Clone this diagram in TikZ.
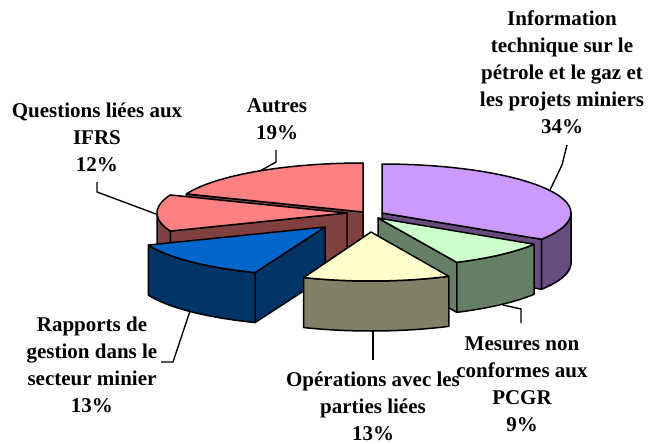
\documentclass[tikz,border=0pt]{standalone}
\usepackage{fontspec}
\setmainfont{Liberation Serif}
\definecolor{purpletop}{HTML}{CC99FF}
\definecolor{purpleside}{HTML}{664C80}
\definecolor{greentop}{HTML}{CCFFCC}
\definecolor{greenside}{HTML}{668066}
\definecolor{yellowtop}{HTML}{FFFFCC}
\definecolor{yellowside}{HTML}{808066}
\definecolor{bluetop}{HTML}{0066CC}
\definecolor{blueside}{HTML}{003366}
\definecolor{pinktop}{HTML}{FF8080}
\definecolor{pinkside}{HTML}{804040}
\newcommand\pieA{190}
\newcommand\pieB{49}
\newcommand\pieD{50}
% top face: cx, cy, t1, t2, colour
\newcommand\slicetop[5]{\filldraw[face,fill=#5] (#1,#2) -- plot[domain=#3:#4,samples=40] ({#1+\pieA*cos(\x)},{#2-\pieB*sin(\x)}) -- cycle;}
% outer wall: cx, cy, t1, t2, colour
\newcommand\slicewall[5]{\filldraw[face,fill=#5] plot[domain=#3:#4,samples=40] ({#1+\pieA*cos(\x)},{#2-\pieB*sin(\x)}) -- plot[domain=#4:#3,samples=40] ({#1+\pieA*cos(\x)},{#2+\pieD-\pieB*sin(\x)}) -- cycle;}
% radial face: cx, cy, t, colour
\newcommand\sliceradial[4]{\filldraw[face,fill=#4] (#1,#2) -- ({#1+\pieA*cos(#3)},{#2-\pieB*sin(#3)}) -- ({#1+\pieA*cos(#3)},{#2+\pieD-\pieB*sin(#3)}) -- ({#1},{#2+\pieD}) -- cycle;}
\tikzset{
  face/.style={draw=black, line width=1.5pt, line join=round},
  lbl/.style={font=\fontsize{21}{27}\selectfont\bfseries, align=center, inner sep=0pt},
  leader/.style={draw=black, line width=1.4pt, line join=round}
}
\begin{document}
\begin{tikzpicture}[x=1pt,y=-1pt]
\useasboundingbox (0,0) rectangle (649,444);
% Autres
\sliceradial{363}{212}{158.4}{pinkside}
\slicetop{363}{212}{90}{158.4}{pinktop}
% Information technique
\renewcommand\pieA{189}
\sliceradial{382}{213}{-32.4}{purpleside}
\slicewall{382}{213}{-32.4}{0}{purpleside}
\slicetop{382}{213}{-32.4}{90}{purpletop}
\renewcommand\pieA{190}
% IFRS
\sliceradial{347}{213}{201.6}{pinkside}
\slicewall{347}{213}{180}{201.6}{pinkside}
\slicetop{347}{213}{158.4}{201.6}{pinktop}
% Mesures non conformes
\renewcommand\pieA{185}
\sliceradial{378}{218}{-64.8}{greenside}
\slicewall{378}{218}{-64.8}{-32.4}{greenside}
\slicetop{378}{218}{-64.8}{-32.4}{greentop}
\renewcommand\pieA{190}
% Rapports de gestion
\sliceradial{325}{227}{-111.6}{blueside}
\slicewall{325}{227}{-158.4}{-111.6}{blueside}
\slicetop{325}{227}{-158.4}{-111.6}{bluetop}
% Operations
\renewcommand\pieA{183}
\slicewall{371}{232}{-111.6}{-64.8}{yellowside}
\slicetop{371}{232}{-111.6}{-64.8}{yellowtop}
\renewcommand\pieA{190}
% labels
\node[lbl] (info) at (562,72) {Information\\technique sur le\\pétrole et le gaz et\\les projets miniers\\34\%};
\node[lbl] (autres) at (277,119) {Autres\\19\%};
\node[lbl] (ifrs) at (97,137) {Questions liées aux\\IFRS\\12\%};
\node[lbl] (rapports) at (92,365) {Rapports de\\gestion dans le\\secteur minier\\13\%};
\node[lbl] (operations) at (373,406) {Opérations avec les\\parties liées\\13\%};
\node[lbl] (mesures) at (522,384) {Mesures non\\conformes aux\\PCGR\\9\%};
% leader points
\coordinate (infoA) at (567,145);
\coordinate (infoB) at (562,165);
\coordinate (infoC) at (550,190);
\coordinate (autA) at (276,150);
\coordinate (autB) at (276,162);
\coordinate (autC) at (260,171);
\coordinate (ifrsA) at (97,182);
\coordinate (ifrsB) at (97,192);
\coordinate (ifrsC) at (156,214);
\coordinate (rapA) at (161,362);
\coordinate (rapB) at (173,362);
\coordinate (rapC) at (190,311);
\coordinate (opA) at (373,331);
\coordinate (opB) at (373,360);
\coordinate (mesA) at (503,305);
\coordinate (mesB) at (521,309);
\coordinate (mesC) at (521,323);
\draw[leader] (infoA) -- (infoB) -- (infoC);
\draw[leader] (autA) -- (autB) -- (autC);
\draw[leader] (ifrsA) -- (ifrsB) -- (ifrsC);
\draw[leader] (rapA) -- (rapB) -- (rapC);
\draw[leader] (opA) -- (opB);
\draw[leader] (mesA) -- (mesB) -- (mesC);
\end{tikzpicture}
\end{document}
